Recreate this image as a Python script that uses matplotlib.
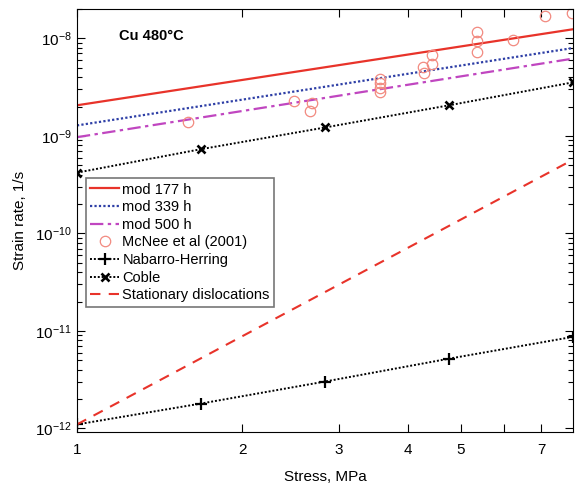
import matplotlib
matplotlib.use('Agg')
import matplotlib.pyplot as plt
from matplotlib.ticker import LogLocator, NullFormatter, FixedLocator, FixedFormatter, LogFormatterSciNotation

plt.rcParams['font.family'] = ['Liberation Sans', 'DejaVu Sans']
plt.rcParams['mathtext.fontset'] = 'custom'
plt.rcParams['mathtext.rm'] = 'Liberation Sans'
plt.rcParams['mathtext.it'] = 'Liberation Sans'
plt.rcParams['mathtext.default'] = 'regular'

# model lines (end points, power law -> straight on log-log)
x_line = [1, 8]
mod177 = [2.06e-9, 1.24e-8]
mod339 = [1.28e-9, 7.96e-9]
mod500 = [0.97e-9, 6.2e-9]
stat_disl = [1.1e-12, 5.7e-10]

# diffusion creep lines with markers
x_diff = [1.0, 1.68, 2.83, 4.76, 8.0]
nabarro = [1.1e-12, 1.8e-12, 3.03e-12, 5.2e-12, 8.7e-12]
coble = [4.2e-10, 7.3e-10, 1.22e-9, 2.06e-9, 3.54e-9]

# McNee et al (2001) measurements
mcnee_x = [1.59, 2.48, 2.68, 2.66, 3.56, 3.56, 3.56, 3.56, 4.26, 4.28, 4.43, 4.43,
           5.35, 5.35, 5.35, 6.22, 7.11, 7.97]
mcnee_y = [1.38e-9, 2.26e-9, 2.16e-9, 1.79e-9, 3.81e-9, 3.47e-9, 3.08e-9, 2.80e-9,
           5.05e-9, 4.38e-9, 6.70e-9, 5.42e-9, 1.15e-8, 9.32e-9, 7.19e-9, 9.55e-9,
           1.68e-8, 1.80e-8]

# axis ticks
x_ticks = [1, 2, 3, 4, 5, 6, 7]
x_ticklabels = ['1', '2', '3', '4', '5', '', '7']
y_ticks = [1e-12, 1e-11, 1e-10, 1e-9, 1e-8]

fig = plt.figure(figsize=(5.77, 4.87), dpi=100)
ax = fig.add_axes([0.1334, 0.1129, 0.8596, 0.8686])

ax.plot(x_line, mod177, color='#e8332a', lw=1.6, label='mod 177 h')
ax.plot(x_line, mod339, color='#2e3fa6', lw=1.6, ls=(0, (1, 1)), label='mod 339 h')
ax.plot(x_line, mod500, color='#c046c0', lw=1.6, ls=(0, (6, 2, 1.5, 2)), label='mod 500 h')
ax.plot(mcnee_x, mcnee_y, ls='none', marker='o', ms=7.5, mfc='none', mec='#f28a80',
        mew=0.9, label='McNee et al (2001)')
ax.plot(x_diff, nabarro, color='black', lw=1.4, ls=(0, (1, 1)), marker='+', ms=8,
        mew=1.6, label='Nabarro-Herring')
ax.plot(x_diff, coble, color='black', lw=1.4, ls=(0, (1, 1)), marker='x', ms=5.5,
        mew=1.9, label='Coble')
ax.plot(x_line, stat_disl, color='#e8332a', lw=1.5, ls=(0, (5, 4)),
        label='Stationary dislocations')

ax.set_xscale('log')
ax.set_yscale('log')
ax.set_xlim(1, 8)
ax.set_ylim(0.92e-12, 2e-8)

ax.xaxis.set_major_locator(FixedLocator(x_ticks))
ax.xaxis.set_major_formatter(FixedFormatter(x_ticklabels))
ax.xaxis.set_minor_locator(FixedLocator([]))
ax.yaxis.set_major_locator(FixedLocator(y_ticks))
ax.yaxis.set_major_formatter(LogFormatterSciNotation())
ax.yaxis.set_minor_locator(LogLocator(base=10, subs=range(2, 10), numticks=20))
ax.yaxis.set_minor_formatter(NullFormatter())

ax.tick_params(which='both', direction='in', top=True, right=True, labelsize=11,
               width=0.8, colors='black')
ax.tick_params(which='major', length=6)
ax.tick_params(which='minor', length=3.5)
ax.tick_params(axis='x', pad=8)

ax.set_xlabel('Stress, MPa', fontsize=11, labelpad=9)
ax.set_ylabel('Strain rate, 1/s', fontsize=11, labelpad=6)

ax.text(0.085, 0.953, 'Cu 480\u00b0C', transform=ax.transAxes, fontsize=10.5,
        fontweight='bold', va='top')

leg = ax.legend(loc='upper left', bbox_to_anchor=(0.012, 0.607), fontsize=10.5,
                frameon=True, fancybox=False, edgecolor='#777777', framealpha=1,
                handlelength=2.0, handletextpad=0.2, borderpad=0.3,
                labelspacing=0.25, borderaxespad=0.2)
leg.get_frame().set_linewidth(1.2)

fig.savefig('out.png', dpi=100)
